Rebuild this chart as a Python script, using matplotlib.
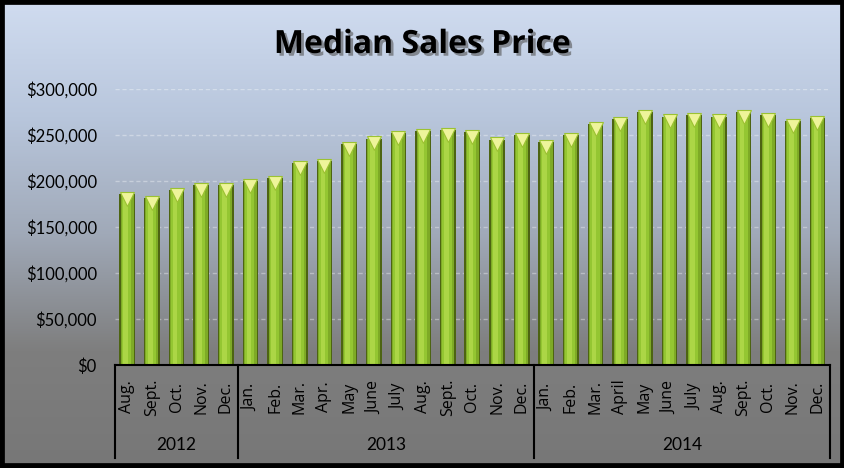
import matplotlib.pyplot as plt
import matplotlib.transforms as mtransforms
import matplotlib.patheffects as pe
from matplotlib.colors import LinearSegmentedColormap
from matplotlib.patches import Rectangle
import numpy as np

# data
months = ["Aug.", "Sept.", "Oct.", "Nov.", "Dec.",
          "Jan.", "Feb.", "Mar.", "Apr.", "May", "June", "July", "Aug.", "Sept.", "Oct.", "Nov.", "Dec.",
          "Jan.", "Feb.", "Mar.", "April", "May", "June", "July", "Aug.", "Sept.", "Oct.", "Nov.", "Dec."]
years = ["2012", "2013", "2014"]
months_per_year = [5, 12, 12]
prices = [186000, 181000, 190000, 196000, 196000,
          200000, 203000, 219000, 222000, 240000, 246000, 252000, 254000, 255000, 253000, 245000, 250000,
          242000, 250000, 262000, 267000, 275000, 270000, 272000, 270000, 275000, 272000, 265000, 268000]
yticks = [0, 50000, 100000, 150000, 200000, 250000, 300000]

fig = plt.figure(figsize=(8.45, 4.68), dpi=100)

# gradient background
bg = fig.add_axes([0, 0, 1, 1], zorder=-10)
bg_cmap = LinearSegmentedColormap.from_list("bg", ["#d0dcf0", "#b8c6dc", "#a0a9b8", "#7e7e7e", "#777777"])
bg.imshow(np.linspace(0, 1, 256).reshape(-1, 1), cmap=bg_cmap, aspect="auto",
          extent=[0, 1, 0, 1], origin="upper")
bg.add_patch(Rectangle((0, 0), 1, 1, fill=False, edgecolor="black", linewidth=7,
                       transform=bg.transAxes))
bg.set_xlim(0, 1)
bg.set_ylim(0, 1)
bg.axis("off")

ax = fig.add_axes([0.136, 0.22, 0.846, 0.59])
ax.set_facecolor("none")

x = np.arange(len(prices))
width = 0.64

# cylinder look: dark rim, lime body, light stripe left of centre
ax.bar(x, prices, width=width, color="#4d6412", linewidth=0, zorder=3)
ax.bar(x, prices, width=width * 0.82, color="#7eaa26", linewidth=0, zorder=3.1)
ax.bar(x - 0.03, prices, width=width * 0.6, color="#94c632", linewidth=0, zorder=3.2)
ax.bar(x - 0.06, prices, width=width * 0.3, color="#acd646", linewidth=0, zorder=3.3)

# cone caps
cap_off = mtransforms.offset_copy(ax.transData, fig=fig, x=0, y=-3.5, units="points")
ax.plot(x, prices, linestyle="none", marker="v", markersize=9.5, color="#eef49a",
        markeredgecolor="#9cc232", markeredgewidth=0.8, transform=cap_off, zorder=5)

ax.set_xlim(-0.5, len(prices) - 0.5)
ax.set_ylim(0, 300000)
ax.set_yticks(yticks)
ax.set_yticklabels([f"${v:,.0f}" for v in yticks],
                   fontdict={"family": "Lato", "size": 12})
ax.tick_params(axis="y", length=0, pad=13)
ax.tick_params(axis="x", length=0, labelbottom=False)
ax.grid(axis="y", color="white", alpha=0.35, linestyle=(0, (3, 2)), linewidth=1, zorder=0)
for s in ["top", "right", "left"]:
    ax.spines[s].set_visible(False)
ax.spines["bottom"].set_color("black")
ax.spines["bottom"].set_linewidth(1.5)
ax.spines["bottom"].set_zorder(6)

# month labels
trans = mtransforms.blended_transform_factory(ax.transData, ax.transAxes)
for xi, m in zip(x, months):
    ax.text(xi, -0.116, m, rotation=90, ha="center", va="center", transform=trans,
            fontsize=11.5, family="Open Sans", color="black")

# year groups with separators
start = -0.5
bounds = [start]
for yr, n in zip(years, months_per_year):
    end = start + n
    ax.text((start + end) / 2, -0.29, yr, ha="center", va="center", transform=trans,
            fontsize=12.5, family="Lato", color="black")
    bounds.append(end)
    start = end
for b in bounds:
    ax.plot([b, b], [0, -0.335], color="black", linewidth=1.5, transform=trans, clip_on=False)

fig.text(0.5, 0.905, "Median Sales Price", ha="center", va="center", fontsize=23,
         fontweight="bold", family="Open Sans", color="black",
         path_effects=[pe.withSimplePatchShadow(offset=(2, -2), shadow_rgbFace="#555555", alpha=0.6)])

fig.savefig("out.png", dpi=100)
